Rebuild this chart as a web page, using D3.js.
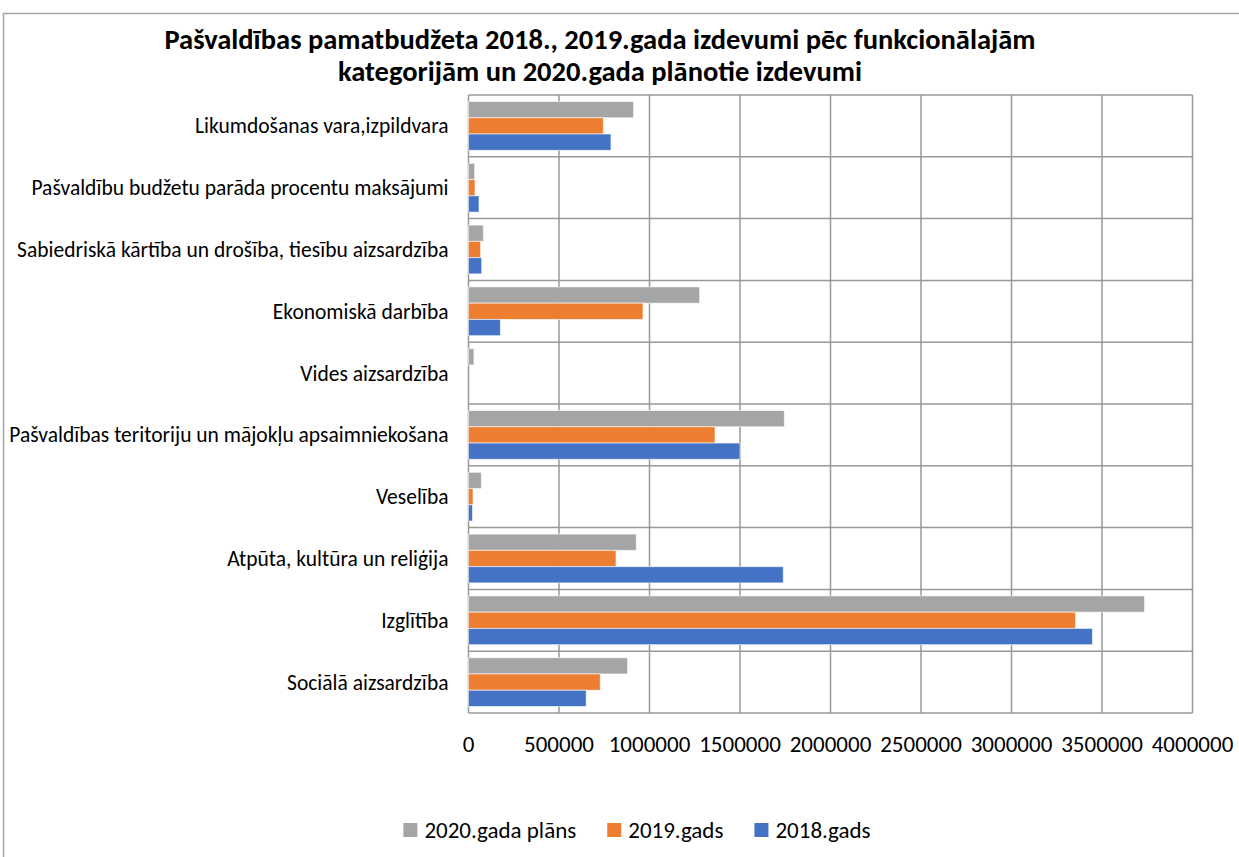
<!DOCTYPE html>
<html>
<head>
<meta charset="utf-8">
<script src="https://cdn.jsdelivr.net/npm/d3@7"></script>
<style>
  body { margin: 0; background: #fff; }
  text { font-family: "Carlito", "Open Sans", sans-serif; fill: #000; }
</style>
</head>
<body>
<script>
// categories, top to bottom
var categories = [
  "Likumdošanas vara,izpildvara",
  "Pašvaldību budžetu parāda procentu maksājumi",
  "Sabiedriskā kārtība un drošība, tiesību aizsardzība",
  "Ekonomiskā darbība",
  "Vides aizsardzība",
  "Pašvaldības teritoriju un mājokļu apsaimniekošana",
  "Veselība",
  "Atpūta, kultūra un reliģija",
  "Izglītība",
  "Sociālā aizsardzība"
];

// series names, in legend order
var seriesNames = ["2020.gada plāns", "2019.gads", "2018.gads"];
var seriesColors = ["#A5A5A5", "#ED7D31", "#4472C4"];

// values
var plan2020 = [912000, 34000, 82000, 1277000, 30000, 1745000, 71000, 927000, 3735000, 879000];
var gads2019 = [745000, 36000, 67000, 964000, 0, 1362000, 25000, 815000, 3354000, 728000];
var gads2018 = [787000, 58000, 73000, 176000, 0, 1500000, 22000, 1739000, 3447000, 650000];
var seriesValues = [plan2020, gads2019, gads2018];

var tickValues = [0, 500000, 1000000, 1500000, 2000000, 2500000, 3000000, 3500000, 4000000];

var titleLines = [
  "Pašvaldības pamatbudžeta 2018., 2019.gada izdevumi pēc funkcionālajām",
  "kategorijām un 2020.gada plānotie izdevumi"
];

var W = 1239, H = 857;
var plot = {left: 468.5, right: 1192.5, top: 95, bottom: 713};

var svg = d3.select("body").append("svg")
    .attr("width", W)
    .attr("height", H);

// chart frame
svg.append("rect")
    .attr("x", 3.5).attr("y", 13.5)
    .attr("width", W + 20).attr("height", H + 20)
    .attr("fill", "#fff")
    .attr("stroke", "#a6a6a6")
    .attr("stroke-width", 1.5);

// scales
var x = d3.scaleLinear().domain([0, 4000000]).range([plot.left, plot.right]);
var y0 = d3.scaleBand().domain(categories).range([plot.top, plot.bottom]);
var y1 = d3.scaleBand().domain(seriesNames).range([0, y0.bandwidth()])
    .paddingInner(0).paddingOuter(0.4);

// vertical gridlines
svg.append("g").selectAll("line")
  .data(tickValues)
  .enter().append("line")
    .attr("x1", function(d) { return x(d); })
    .attr("x2", function(d) { return x(d); })
    .attr("y1", plot.top)
    .attr("y2", plot.bottom)
    .attr("stroke", "#999")
    .attr("stroke-width", 1.5);

// horizontal category separators
var seps = categories.map(function(c) { return y0(c); }).concat([plot.bottom]);
svg.append("g").selectAll("line")
  .data(seps)
  .enter().append("line")
    .attr("x1", plot.left)
    .attr("x2", plot.right)
    .attr("y1", function(d) { return d; })
    .attr("y2", function(d) { return d; })
    .attr("stroke", "#999")
    .attr("stroke-width", 1.5);

// bars
var groups = svg.append("g").selectAll("g")
  .data(categories)
  .enter().append("g")
    .attr("transform", function(d) { return "translate(0," + y0(d) + ")"; });

groups.selectAll("rect")
  .data(function(c, i) {
    return seriesNames.map(function(s, j) { return {s: s, j: j, v: seriesValues[j][i]}; });
  })
  .enter().append("rect")
    .filter(function(d) { return d.v > 0; })
    .attr("x", x(0))
    .attr("y", function(d) { return y1(d.s); })
    .attr("width", function(d) { return x(d.v) - x(0); })
    .attr("height", y1.bandwidth())
    .attr("fill", function(d) { return seriesColors[d.j]; })
    .attr("stroke", "#fff")
    .attr("stroke-opacity", 0.6)
    .attr("stroke-width", 1);

// category labels
svg.append("g").selectAll("text")
  .data(categories)
  .enter().append("text")
    .attr("x", plot.left - 20)
    .attr("y", function(d) { return y0(d) + y0.bandwidth() / 2; })
    .attr("dy", "0.35em")
    .attr("text-anchor", "end")
    .style("font-size", "21.5px")
    .text(function(d) { return d; });

// value axis labels
svg.append("g").selectAll("text")
  .data(tickValues)
  .enter().append("text")
    .attr("x", function(d) { return x(d); })
    .attr("y", 752)
    .attr("text-anchor", "middle")
    .style("font-size", "23px")
    .text(function(d) { return d; });

// title
svg.append("g").selectAll("text")
  .data(titleLines)
  .enter().append("text")
    .attr("x", 600)
    .attr("y", function(d, i) { return 49 + i * 32; })
    .attr("text-anchor", "middle")
    .style("font-size", "28.5px")
    .style("font-weight", "bold")
    .text(function(d) { return d; });

// legend
var legend = svg.append("g");
var items = legend.selectAll("g")
  .data(seriesNames)
  .enter().append("g");
items.append("rect")
    .attr("width", 14).attr("height", 14)
    .attr("y", -7)
    .attr("fill", function(d, i) { return seriesColors[i]; });
items.append("text")
    .attr("x", 21)
    .attr("dy", "0.35em")
    .style("font-size", "23px")
    .text(function(d) { return d; });

var offs = 0, pos = [];
items.each(function() {
  pos.push(offs);
  offs += 21 + d3.select(this).select("text").node().getComputedTextLength() + 31;
});
var totalW = offs - 31;
var startX = 637 - totalW / 2;
items.attr("transform", function(d, i) { return "translate(" + (startX + pos[i]) + ",830)"; });
</script>
</body>
</html>
